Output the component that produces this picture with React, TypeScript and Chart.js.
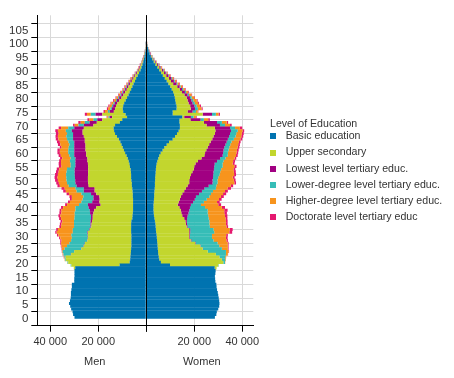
import { useEffect, useRef } from 'react';
import { Chart, registerables } from 'chart.js';

Chart.register(...registerables);

// Ages 0..100 (each bar spans [age, age+1])
const AGES = Array.from({ length: 101 }, (_, i) => i);
const X_TICKS = [-40000, -20000, 0, 20000, 40000];
const Y_TICKS = [0, 5, 10, 15, 20, 25, 30, 35, 40, 45, 50, 55, 60, 65, 70, 75, 80, 85, 90, 95, 100, 105];

const LEVELS = [
  'Basic education',
  'Upper secondary',
  'Lowest level tertiary educ.',
  'Lower-degree level tertiary educ.',
  'Higher-degree level tertiary educ.',
  'Doctorate level tertiary educ',
];
const COLORS = ['#0073b0', '#c2d62e', '#a10082', '#36bdb7', '#f7941d', '#e5186f'];

// ---- Men ----
const menBasic = [
  29900, 30500, 30700, 31300, 31700, 32200, 31800, 31500, 31400, 31400,
  31200, 31000, 31000, 30000, 30000, 29900, 29900, 29900, 29600, 11100,
  6900, 6700, 6600, 6500, 6400, 6300, 6200, 6200, 6200, 6200,
  6200, 6300, 6300, 6300, 6300, 6200, 5800, 5700, 5600, 5500,
  5500, 5500, 5500, 5500, 5600, 5600, 5700, 5800, 6000, 6000,
  6200, 6300, 6300, 6400, 6500, 6800, 7000, 7300, 7700, 8200,
  8800, 9300, 9800, 10300, 10800, 11400, 12200, 13000, 13400, 13600,
  13000, 11000, 10000, 8000, 8600, 9600, 9800, 9600, 9200, 8600,
  8000, 7400, 6900, 6300, 5800, 5300, 4700, 4200, 3600, 3000,
  2400, 2000, 1600, 1250, 1000, 750, 550, 400, 280, 180,
  120,
];
const menUpper = [
  0, 0, 0, 0, 0, 0, 0, 0, 0, 0,
  0, 0, 0, 0, 0, 0, 0, 0, 600, 20100,
  25600, 26800, 27000, 24800, 23600, 20700, 19800, 19300, 18300, 18100,
  18100, 18000, 17200, 16600, 16500, 16400, 16500, 16600, 16400, 16200,
  15300, 13500, 14000, 13900, 13900, 15200, 15800, 15700, 18000, 18200,
  18100, 18000, 17900, 17800, 17700, 17400, 17300, 17200, 16800, 16800,
  16200, 16000, 15500, 15000, 14800, 14200, 13800, 13500, 13100, 12400,
  9000, 9600, 8300, 6200, 9700, 3900, 3200, 3000, 2800, 2600,
  2300, 2100, 1900, 1800, 1600, 1500, 1300, 1100, 1000, 800,
  700, 600, 500, 350, 300, 230, 170, 120, 80, 60,
  40,
];
const menLowest = [
  0, 0, 0, 0, 0, 0, 0, 0, 0, 0,
  0, 0, 0, 0, 0, 0, 0, 0, 0, 0,
  0, 0, 0, 100, 100, 100, 100, 100, 100, 100,
  100, 200, 200, 300, 400, 600, 700, 700, 1400, 1800,
  3200, 5300, 3000, 2600, 2500, 2200, 4500, 4500, 5000, 5300,
  5300, 5400, 5600, 5600, 5600, 5300, 5200, 5000, 5000, 5000,
  5000, 4700, 4700, 4700, 4400, 4900, 4500, 4000, 4500, 4000,
  4000, 3000, 2100, 1000, 2800, 1700, 1300, 1200, 1100, 1000,
  1000, 900, 800, 700, 700, 600, 600, 500, 400, 400,
  300, 250, 200, 200, 150, 120, 80, 60, 40, 30,
  20,
];
const menLower = [
  0, 0, 0, 0, 0, 0, 0, 0, 0, 0,
  0, 0, 0, 0, 0, 0, 0, 0, 0, 300,
  300, 300, 400, 3100, 4700, 6900, 6900, 6400, 6700, 6600,
  6800, 6100, 6900, 6900, 6900, 6900, 6900, 6800, 6400, 6000,
  5500, 3700, 4500, 4500, 4200, 4000, 3000, 3500, 3300, 3500,
  3600, 3600, 3600, 3400, 3200, 2000, 2000, 2300, 2000, 2000,
  2500, 2500, 2300, 2000, 2400, 2500, 2800, 2500, 2500, 2500,
  2200, 2000, 1600, 500, 2000, 800, 600, 500, 500, 400,
  400, 400, 400, 300, 300, 300, 200, 200, 200, 200,
  150, 100, 100, 50, 50, 40, 30, 20, 20, 10,
  10,
];
const menHigher = [
  0, 0, 0, 0, 0, 0, 0, 0, 0, 0,
  0, 0, 0, 0, 0, 0, 0, 0, 0, 0,
  100, 200, 300, 300, 300, 1100, 2300, 3500, 4000, 4800,
  5400, 6700, 6200, 5400, 5200, 4900, 5600, 6000, 5600, 5800,
  5100, 5000, 4800, 4500, 4800, 5200, 4500, 4500, 3700, 3400,
  3600, 3700, 3400, 3300, 3200, 3800, 4000, 3700, 3500, 3600,
  3500, 3500, 3000, 3800, 3600, 3600, 3500, 3500, 3300, 3000,
  1600, 1700, 1800, 500, 1600, 1200, 1000, 1000, 900, 800,
  700, 600, 500, 500, 400, 400, 400, 400, 300, 200,
  200, 200, 150, 150, 100, 80, 70, 50, 40, 30,
  20,
];
const menDoctor = [
  0, 0, 0, 0, 0, 0, 0, 0, 0, 0,
  0, 0, 0, 0, 0, 0, 0, 0, 0, 0,
  0, 0, 100, 100, 100, 200, 300, 300, 500, 500,
  600, 600, 700, 700, 700, 700, 800, 800, 800, 800,
  900, 800, 800, 800, 1000, 1000, 1100, 1300, 1000, 1100,
  1200, 1200, 1200, 1100, 1100, 1100, 1000, 800, 900, 900,
  1000, 1000, 700, 1000, 1200, 1100, 1000, 1100, 1100, 1000,
  700, 1000, 700, 300, 900, 600, 500, 500, 400, 400,
  400, 300, 300, 300, 300, 200, 200, 200, 200, 200,
  150, 150, 150, 100, 100, 80, 50, 50, 40, 30,
  30,
];

// ---- Women ----
const womenBasic = [
  28600, 29200, 29400, 30000, 30400, 30500, 30400, 30200, 30000, 29800,
  29500, 29300, 29200, 28800, 28700, 28600, 28800, 28900, 28500, 9900,
  6100, 5400, 5200, 5000, 4900, 4800, 4700, 4600, 4500, 4400,
  4300, 4100, 4000, 3900, 3800, 3600, 3400, 3200, 3100, 3000,
  3000, 3000, 3100, 3200, 3300, 3300, 3400, 3500, 3600, 3600,
  3700, 3700, 3800, 3900, 4000, 4100, 4300, 4600, 5000, 5400,
  6000, 6800, 7500, 8500, 9500, 11000, 12000, 12800, 13500, 14000,
  14000, 13800, 13800, 15000, 11000, 11000, 12600, 12600, 12300, 12100,
  11900, 11600, 11200, 10600, 10000, 9200, 8500, 7700, 6900, 6200,
  5400, 4600, 3800, 3100, 2500, 1900, 1400, 1000, 700, 450,
  300,
];
const womenUpper = [
  0, 0, 0, 0, 0, 0, 0, 0, 0, 0,
  0, 0, 0, 0, 0, 0, 0, 0, 800, 20100,
  26000, 26100, 25300, 24000, 20700, 18700, 17800, 15800, 14000, 13500,
  13600, 13800, 13900, 12900, 12700, 12700, 12400, 11800, 11500, 11400,
  10800, 10100, 10400, 10800, 11100, 11700, 12400, 13000, 13600, 14300,
  14200, 14500, 14800, 15300, 15800, 15900, 16200, 16900, 18000, 18800,
  18500, 18200, 18100, 17700, 17300, 16500, 16000, 15800, 15300, 14600,
  11100, 10200, 4600, 800, 12500, 6200, 5900, 5700, 5300, 5100,
  4900, 4300, 3700, 3300, 2900, 2000, 1800, 1700, 1400, 1200,
  1000, 800, 700, 500, 400, 300, 200, 150, 100, 70,
  50,
];
const womenLowest = [
  0, 0, 0, 0, 0, 0, 0, 0, 0, 0,
  0, 0, 0, 0, 0, 0, 0, 0, 0, 0,
  0, 0, 0, 0, 0, 100, 100, 200, 300, 300,
  300, 400, 400, 400, 500, 600, 1200, 2200, 3000, 3500,
  4400, 5500, 6000, 6200, 6300, 7000, 7400, 7700, 8800, 9700,
  9700, 9600, 9300, 8800, 8400, 8300, 8000, 8000, 7800, 7600,
  7500, 7200, 6900, 6800, 6700, 6500, 6500, 6300, 6500, 6300,
  5600, 5500, 4200, 2800, 3900, 2100, 1800, 1700, 1700, 1600,
  1400, 1300, 1200, 1000, 1000, 1400, 1200, 1000, 900, 700,
  600, 500, 400, 300, 200, 200, 200, 100, 70, 40,
  30,
];
const womenLower = [
  0, 0, 0, 0, 0, 0, 0, 0, 0, 0,
  0, 0, 0, 0, 0, 0, 0, 0, 0, 200,
  700, 1400, 2400, 4200, 7600, 7900, 7800, 9100, 9200, 9200,
  9200, 10000, 9700, 9300, 9300, 9400, 9000, 8600, 8000, 7700,
  6300, 4200, 4500, 5000, 5600, 5000, 4600, 4800, 3200, 2100,
  2100, 2200, 2600, 2800, 3000, 3500, 3300, 2700, 2200, 2100,
  2000, 2100, 2100, 2000, 2000, 2500, 2700, 2600, 2800, 2100,
  2100, 2000, 1400, 1100, 1600, 1400, 1200, 1000, 900, 800,
  700, 600, 500, 500, 400, 400, 400, 400, 300, 300,
  300, 200, 200, 200, 200, 100, 50, 50, 30, 20,
  20,
];
const womenHigher = [
  0, 0, 0, 0, 0, 0, 0, 0, 0, 0,
  0, 0, 0, 0, 0, 0, 0, 0, 0, 0,
  100, 300, 400, 800, 1100, 2500, 3600, 4200, 5400, 5800,
  5900, 6300, 6800, 6900, 6900, 6900, 7000, 7000, 6900, 6900,
  7000, 7200, 5500, 5100, 4800, 5000, 5000, 4900, 6000, 7000,
  6800, 6000, 6100, 5700, 5100, 4900, 4200, 4000, 3800, 3500,
  3600, 3500, 3500, 3300, 3100, 2700, 2400, 2300, 2000, 2000,
  2100, 2000, 1800, 1000, 1100, 700, 1500, 1400, 1400, 1400,
  1100, 1000, 800, 700, 700, 700, 600, 500, 500, 400,
  300, 300, 200, 200, 100, 100, 50, 50, 50, 40,
  20,
];
const womenDoctor = [
  0, 0, 0, 0, 0, 0, 0, 0, 0, 0,
  0, 0, 0, 0, 0, 0, 0, 0, 0, 0,
  0, 0, 0, 100, 200, 300, 300, 400, 600, 700,
  700, 1200, 1200, 700, 700, 700, 800, 1000, 1100, 1400,
  1300, 1200, 1100, 1100, 1200, 1300, 1200, 1400, 1000, 700,
  700, 800, 800, 800, 800, 900, 800, 800, 700, 700,
  700, 700, 700, 700, 700, 800, 800, 800, 700, 1000,
  700, 600, 700, 300, 600, 300, 500, 400, 400, 400,
  300, 300, 300, 300, 300, 300, 300, 300, 200, 200,
  200, 200, 200, 100, 100, 100, 100, 50, 50, 30,
  30,
];

const MEN = [menBasic, menUpper, menLowest, menLower, menHigher, menDoctor];
const WOMEN = [womenBasic, womenUpper, womenLowest, womenLower, womenHigher, womenDoctor];

const FONT = '"Liberation Sans", Arial, sans-serif';
const TEXT = '#333333';
const GRID = '#d9d9d9';

const fmt = (v: number) =>
  v === 0 ? '' : String(Math.abs(v)).replace(/\B(?=(\d{3})+(?!\d))/g, ' ');

const sexPlugin = {
  id: 'sexPlugin',
  afterDatasetsDraw(chart: any) {
    const { ctx, chartArea, scales } = chart;
    const x0 = Math.round(scales.x.getPixelForValue(0) - 0.5) + 0.5;
    ctx.save();
    ctx.strokeStyle = '#000';
    ctx.lineWidth = 1;
    ctx.beginPath();
    ctx.moveTo(x0, chartArea.top);
    ctx.lineTo(x0, chartArea.bottom + 6);
    ctx.stroke();
    ctx.restore();
  },
  afterDraw(chart: any) {
    const { ctx, chartArea, scales } = chart;
    const zero = scales.x.getPixelForValue(0);
    ctx.save();
    ctx.font = `11px ${FONT}`;
    ctx.fillStyle = TEXT;
    ctx.textAlign = 'center';
    ctx.textBaseline = 'middle';
    const y = chartArea.bottom + 36.5;
    ctx.fillText('Men', (chartArea.left + zero) / 2 + 3, y);
    ctx.fillText('Women', (zero + chartArea.right) / 2 + 2, y);
    ctx.restore();
  },
};

export default function App() {
  const ref = useRef<HTMLCanvasElement | null>(null);

  useEffect(() => {
    if (!ref.current) return;
    const markers = COLORS.map((c) => {
      const cv = document.createElement('canvas');
      cv.width = 16;
      cv.height = 6;
      const g = cv.getContext('2d')!;
      g.fillStyle = c;
      g.fillRect(0, 0, 6, 6);
      return cv;
    });

    const datasets: any[] = [];
    MEN.forEach((series, k) => {
      datasets.push({
        label: LEVELS[k] + ' (men)',
        data: AGES.map((a, i) => ({ x: -series[i], y: a + 0.5 })),
        backgroundColor: COLORS[k],
      });
    });
    WOMEN.forEach((series, k) => {
      datasets.push({
        label: LEVELS[k],
        data: AGES.map((a, i) => ({ x: series[i], y: a + 0.5 })),
        backgroundColor: COLORS[k],
      });
    });

    const chart = new Chart(ref.current, {
      type: 'bar',
      data: { datasets },
      options: {
        indexAxis: 'y',
        responsive: false,
        animation: false,
        events: [],
        font: { family: FONT },
        layout: { padding: { top: 15.3, right: 4, bottom: 0, left: 0 } },
        datasets: {
          bar: { barPercentage: 1.12, categoryPercentage: 1, borderWidth: 0 },
        },
        scales: {
          x: {
            type: 'linear',
            min: -45400,
            max: 44600,
            stacked: true,
            afterBuildTicks: (axis: any) => {
              axis.ticks = X_TICKS.map((v) => ({ value: v }));
            },
            ticks: {
              autoSkip: false,
              callback: (v: any) => fmt(Number(v)),
              font: { family: FONT, size: 11 },
              color: TEXT,
              padding: 4,
              maxRotation: 0,
            },
            grid: {
              color: (c: any) => (c.tick && c.tick.value === 0 ? '#000' : GRID),
              tickColor: '#000',
              tickLength: 6,
            },
            border: { display: true, color: '#000' },
            afterFit: (s: any) => {
              s.height = 52.3;
            },
          },
          y: {
            type: 'linear',
            min: 0,
            max: 108,
            stacked: true,
            afterBuildTicks: (axis: any) => {
              axis.ticks = Y_TICKS.map((v) => ({ value: v }));
            },
            ticks: {
              autoSkip: false,
              font: { family: FONT, size: 11.5 },
              color: TEXT,
              padding: 3,
            },
            grid: { color: GRID, tickColor: '#000', tickLength: 6 },
            border: { display: true, color: '#000' },
            afterFit: (s: any) => {
              s.width = 37.3;
            },
          },
          y2: {
            type: 'linear',
            position: 'right',
            display: true,
            grid: { display: false },
            border: { display: false },
            ticks: { display: false },
            afterFit: (s: any) => {
              s.width = 16.7;
            },
          },
        },
        plugins: {
          tooltip: { enabled: false },
          legend: {
            position: 'right',
            align: 'center',
            fullSize: false,
            maxWidth: 180,
            title: {
              display: true,
              text: 'Level of Education',
              position: 'start',
              color: TEXT,
              font: { family: FONT, size: 10.6 },
              padding: { top: 6, bottom: -6 },
            },
            labels: {
              usePointStyle: true,
              pointStyleWidth: 4.75,
              padding: 5.6,
              color: TEXT,
              font: { family: FONT, size: 10.6 },
              generateLabels: () =>
                LEVELS.map((t, i) => ({
                  text: t,
                  fillStyle: COLORS[i],
                  strokeStyle: COLORS[i],
                  lineWidth: 0,
                  hidden: false,
                  pointStyle: markers[i],
                  datasetIndex: 6 + i,
                })),
            },
          },
        },
      } as any,
      plugins: [sexPlugin],
    });
    return () => chart.destroy();
  }, []);

  return (
    <div style={{ position: 'absolute', left: 0, top: 0, width: 454, height: 378, background: '#fff' }}>
      <canvas ref={ref} width={454} height={378} style={{ display: 'block' }} />
    </div>
  );
}
